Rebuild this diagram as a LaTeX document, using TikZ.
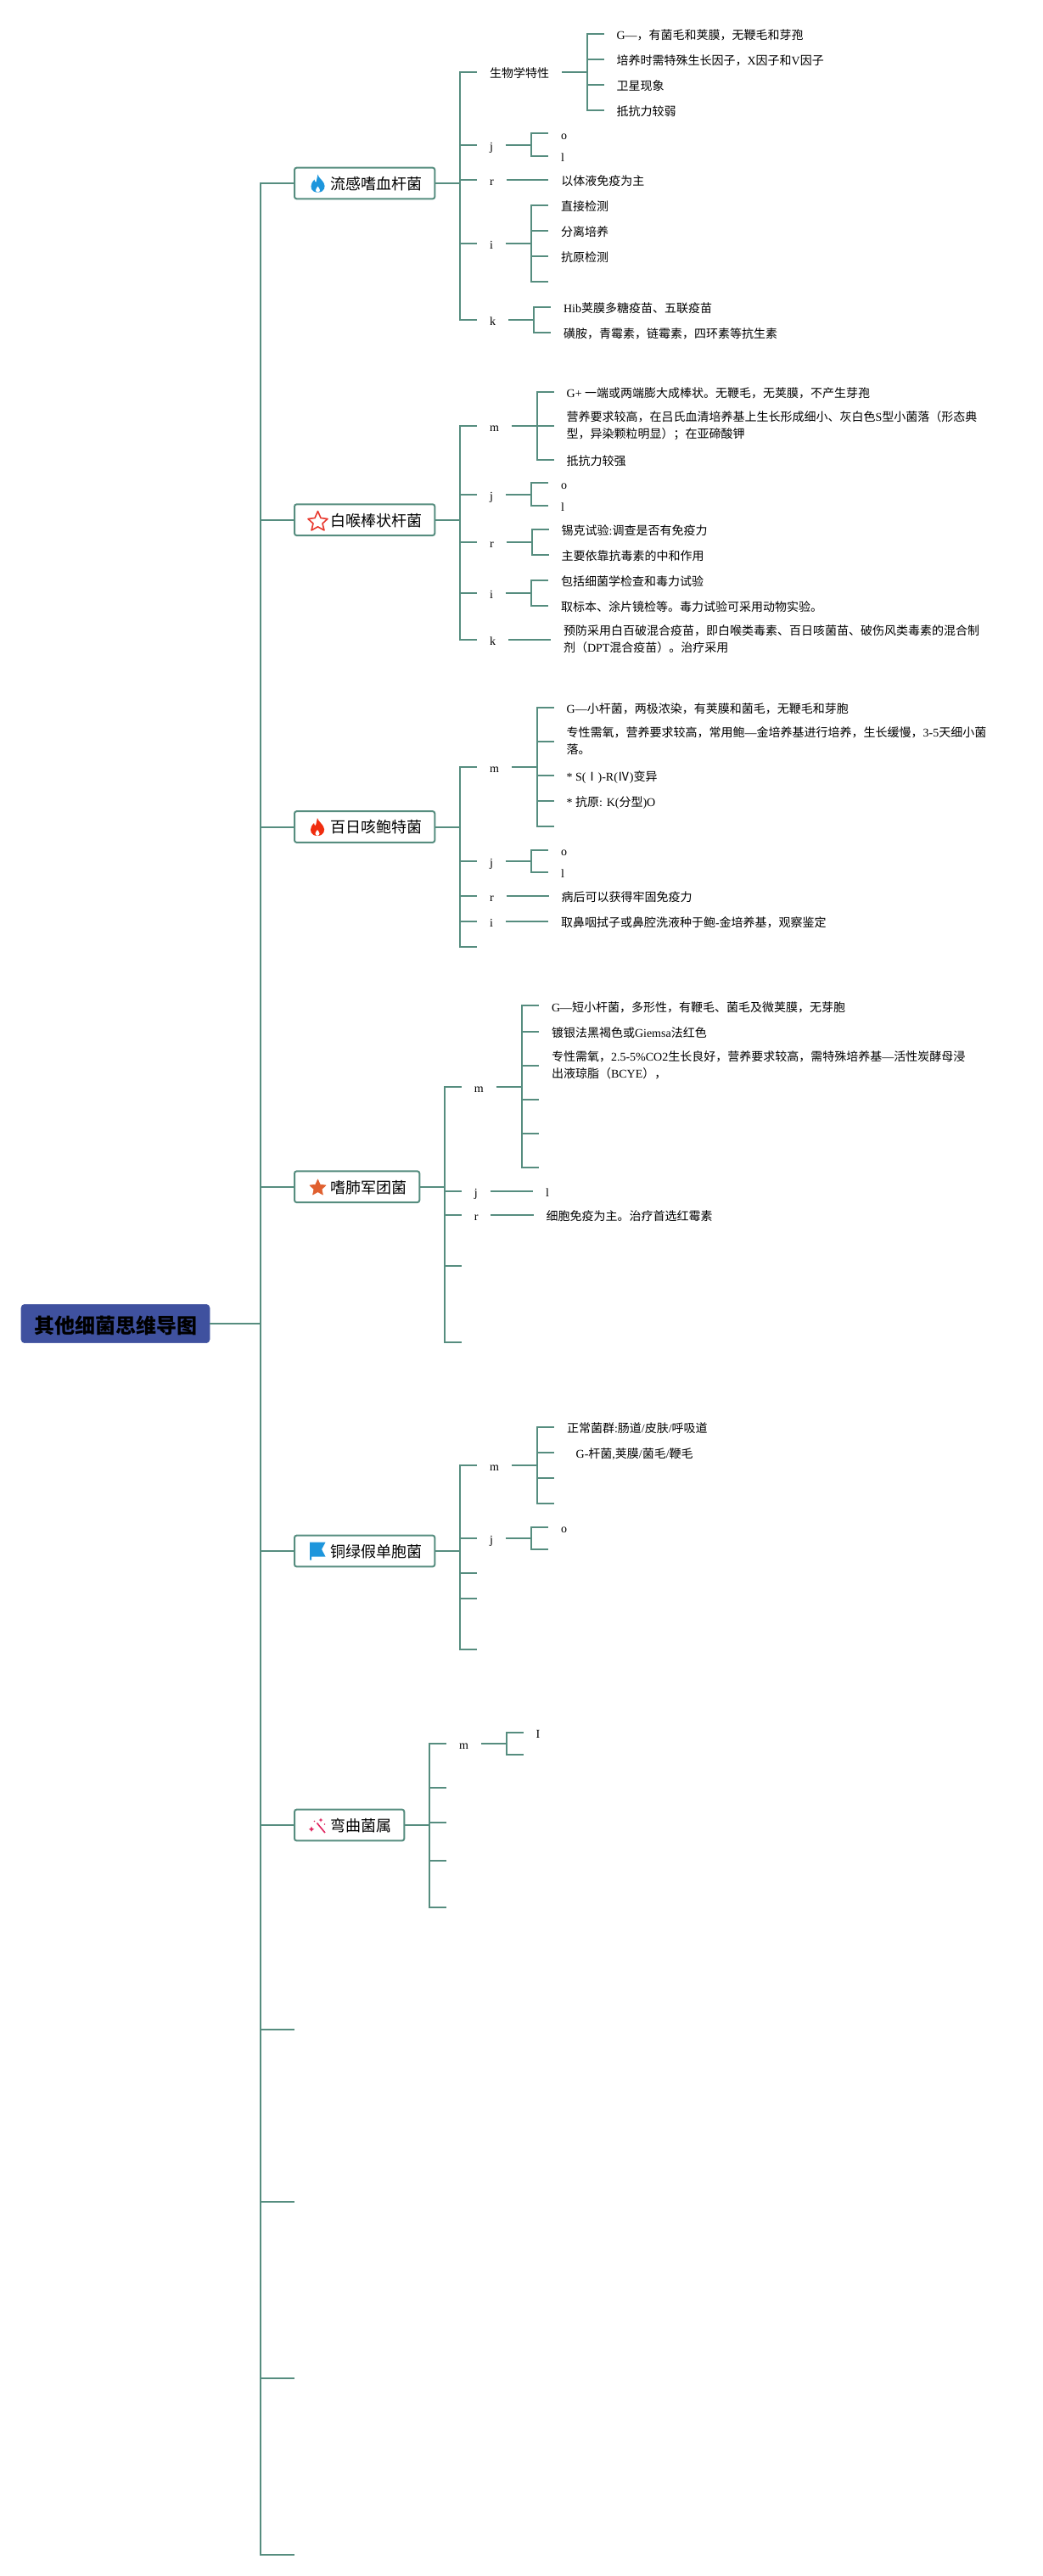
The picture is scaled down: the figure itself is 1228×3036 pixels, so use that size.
\documentclass[tikz,border=0pt]{standalone}
\usepackage{fontspec}
\setmainfont{Liberation Serif}
\newfontfamily\cjkf{Noto Sans CJK SC}
\newfontfamily\latf{Liberation Serif}
% automatic CJK / Latin font switching
\newXeTeXintercharclass\cjkcls
\newcount\ccnt
\ccnt="3000 \loop \XeTeXcharclass\ccnt=\cjkcls \ifnum\ccnt<"9FFF \advance\ccnt 1 \repeat
\ccnt="FF00 \loop \XeTeXcharclass\ccnt=\cjkcls \ifnum\ccnt<"FFEF \advance\ccnt 1 \repeat
\ccnt="2160 \loop \XeTeXcharclass\ccnt=\cjkcls \ifnum\ccnt<"216F \advance\ccnt 1 \repeat
\XeTeXinterchartoks 0 \cjkcls={\cjkf}
\XeTeXinterchartoks 4095 \cjkcls={\cjkf}
\XeTeXinterchartoks \cjkcls 0={\latf}
\XeTeXinterchartoks 4095 0={\latf}
\XeTeXinterchartokenstate=1
\definecolor{linkc}{HTML}{568D7F}
\definecolor{rootc}{HTML}{3F519F}
\definecolor{iconblue}{HTML}{1E96DC}
\definecolor{iconred}{HTML}{F02D0F}
\definecolor{iconorange}{HTML}{E0602F}
\definecolor{iconstar}{HTML}{E8392F}
\definecolor{iconpink}{HTML}{E0245E}
\newcommand\st{\rule[-2.25pt]{0pt}{14.85pt}}
\tikzset{
  link/.style={draw=linkc,line width=1.5pt},
  leaf/.style={anchor=west,inner xsep=11.25pt,inner ysep=0pt,outer sep=0pt,align=left,
    font=\fontsize{10.5}{15}\selectfont,execute at begin node=\st},
  topic/.style={anchor=west,draw=linkc,line width=1.5pt,fill=white,rounded corners=2pt,inner xsep=0pt,inner ysep=0pt,
    outer sep=0pt,minimum height=27.6pt,font=\fontsize{13.5}{16}\selectfont,
    execute at begin node={\hspace*{31.5pt}\rule[-5pt]{0pt}{21.2pt}},execute at end node={\hspace*{11.5pt}}},
  rootbox/.style={anchor=west,fill=rootc,draw=rootc,rounded corners=3pt,minimum width=166.5pt,minimum height=34pt,
    inner sep=0pt,outer sep=0pt,font=\fontsize{18}{22}\selectfont\bfseries,
    execute at begin node={\rule[-6pt]{0pt}{28.6pt}}},
}
\newcommand\bracket[3]{%
  \coordinate (J#1) at (#2,0);
  \draw[link] (#1.east) -- (J#1 |- #1.east);
  \foreach \kid in {#3} \draw[link] (J#1 |- #1.east) |- (\kid);
}
\newcommand\flame[3]{%
  \begin{scope}[shift={(#1,#2)}]
    \fill[#3] (9,0) .. controls (10,4) and (14,6) .. (16,10) .. controls (18.5,14) and (17,21) .. (9,21)
      .. controls (1.5,21) and (-0.5,15) .. (2,10) .. controls (3,8) and (4,7) .. (5,6)
      .. controls (5,8) and (6,9) .. (7,9) .. controls (8,6) and (8,3) .. (9,0) -- cycle;
    \fill[white] (9,14) .. controls (10,15.5) and (11.5,17) .. (11.5,18.5) .. controls (11.5,20) and (10,20.8) .. (9,20.8)
      .. controls (8,20.8) and (6.5,20) .. (6.5,18.5) .. controls (6.5,17) and (8,15.5) .. (9,14) -- cycle;
  \end{scope}}
\begin{document}
\begin{tikzpicture}[x=0.75pt,y=-0.75pt]
\useasboundingbox (0,0) rectangle (1228,3036);
% root and main branches
\node[rootbox] (root) at (25,1560) {其他细菌思维导图};
\node[topic] (n1) at (347,216) {流感嗜血杆菌};
\node[topic] (n2) at (347,612.7) {白喉棒状杆菌};
\node[topic] (n3) at (347,974.5) {百日咳鲍特菌};
\node[topic] (n4) at (347,1398.7) {嗜肺军团菌};
\node[topic] (n5) at (347,1828) {铜绿假单胞菌};
\node[topic] (n6) at (347,2151) {弯曲菌属};
\coordinate (e1) at (347,2391.7);
\coordinate (e2) at (347,2594.7);
\coordinate (e3) at (347,2802.9);
\coordinate (e4) at (347,3010.6);
\bracket{root}{306.7}{n1.west,n2.west,n3.west,n4.west,n5.west,n6.west,e1,e2,e3,e4}

% ---- n1
\node[leaf] (n1a) at (562,84.7) {生物学特性};
\node[leaf] (n1j) at (562,170.7) {j};
\node[leaf] (n1r) at (562,211.7) {r};
\node[leaf] (n1i) at (562,286.7) {i};
\node[leaf] (n1k) at (562,376.7) {k};
\bracket{n1}{542}{n1a.west,n1j.west,n1r.west,n1i.west,n1k.west}
\node[leaf] (n1a1) at (711.6,39.7) {G—，有菌毛和荚膜，无鞭毛和芽孢};
\node[leaf] (n1a2) at (711.6,69.7) {培养时需特殊生长因子，X因子和V因子};
\node[leaf] (n1a3) at (711.6,99.7) {卫星现象};
\node[leaf] (n1a4) at (711.6,129.7) {抵抗力较弱};
\bracket{n1a}{691.5}{n1a1.west,n1a2.west,n1a3.west,n1a4.west}
\node[leaf] (n1j1) at (646,157.3) {o};
\node[leaf] (n1j2) at (646,183.7) {l};
\bracket{n1j}{626}{n1j1.west,n1j2.west}
\node[leaf] (n1r1) at (646.4,211.7) {以体液免疫为主};
\bracket{n1r}{626}{n1r1.west}
\node[leaf] (n1i1) at (646,241.7) {直接检测};
\node[leaf] (n1i2) at (646,271.7) {分离培养};
\node[leaf] (n1i3) at (646,301.7) {抗原检测};
\coordinate (n1i4) at (646,331.7);
\bracket{n1i}{626}{n1i1.west,n1i2.west,n1i3.west,n1i4}
\node[leaf] (n1k1) at (649,361.7) {Hib荚膜多糖疫苗、五联疫苗};
\node[leaf] (n1k2) at (649,391.7) {磺胺，青霉素，链霉素，四环素等抗生素};
\bracket{n1k}{629}{n1k1.west,n1k2.west}

% ---- n2
\node[leaf] (n2m) at (562,501.5) {m};
\node[leaf] (n2j) at (562,582.7) {j};
\node[leaf] (n2r) at (562,638.7) {r};
\node[leaf] (n2i) at (562,698.7) {i};
\node[leaf] (n2k) at (562,753.7) {k};
\bracket{n2}{542}{n2m.west,n2j.west,n2r.west,n2i.west,n2k.west}
\node[leaf] (n2m1) at (652.7,461.7) {G+ 一端或两端膨大成棒状。无鞭毛，无荚膜，不产生芽孢};
\node[leaf] (n2m2) at (652.7,501.7) {营养要求较高，在吕氏血清培养基上生长形成细小、灰白色S型小菌落（形态典\\\st 型，异染颗粒明显）；在亚碲酸钾};
\node[leaf] (n2m3) at (652.7,541.7) {抵抗力较强};
\bracket{n2m}{632.5}{n2m1.west,n2m2.west,n2m3.west}
\node[leaf] (n2j1) at (646,569.3) {o};
\node[leaf] (n2j2) at (646,595.7) {l};
\bracket{n2j}{625.6}{n2j1.west,n2j2.west}
\node[leaf] (n2r1) at (646.7,623.7) {锡克试验:调查是否有免疫力};
\node[leaf] (n2r2) at (646.7,653.7) {主要依靠抗毒素的中和作用};
\bracket{n2r}{626.6}{n2r1.west,n2r2.west}
\node[leaf] (n2i1) at (646,683.7) {包括细菌学检查和毒力试验};
\node[leaf] (n2i2) at (646,713.7) {取标本、涂片镜检等。毒力试验可采用动物实验。};
\bracket{n2i}{625.6}{n2i1.west,n2i2.west}
\node[leaf] (n2k1) at (649,753.7) {预防采用白百破混合疫苗，即白喉类毒素、百日咳菌苗、破伤风类毒素的混合制\\\st 剂（DPT混合疫苗）。治疗采用};
\bracket{n2k}{629}{n2k1.west}

% ---- n3
\node[leaf] (n3m) at (562,903.7) {m};
\node[leaf] (n3j) at (562,1015) {j};
\node[leaf] (n3r) at (562,1055.7) {r};
\node[leaf] (n3i) at (562,1085.7) {i};
\coordinate (n3x) at (562,1115.7);
\bracket{n3}{542}{n3m.west,n3j.west,n3r.west,n3i.west,n3x}
\node[leaf] (n3m1) at (652.7,833.7) {G—小杆菌，两极浓染，有荚膜和菌毛，无鞭毛和芽胞};
\node[leaf] (n3m2) at (652.7,873.7) {专性需氧，营养要求较高，常用鲍—金培养基进行培养，生长缓慢，3-5天细小菌\\\st 落。};
\node[leaf] (n3m3) at (652.7,913.7) {* S(Ⅰ)-R(Ⅳ)变异};
\node[leaf] (n3m4) at (652.7,943.7) {* 抗原: K(分型)O};
\coordinate (n3m5) at (652.7,973.7);
\bracket{n3m}{632.5}{n3m1.west,n3m2.west,n3m3.west,n3m4.west,n3m5}
\node[leaf] (n3j1) at (646,1001.7) {o};
\node[leaf] (n3j2) at (646,1028) {l};
\bracket{n3j}{625.6}{n3j1.west,n3j2.west}
\node[leaf] (n3r1) at (646.7,1055.7) {病后可以获得牢固免疫力};
\bracket{n3r}{626}{n3r1.west}
\node[leaf] (n3i1) at (646,1085.7) {取鼻咽拭子或鼻腔洗液种于鲍-金培养基，观察鉴定};
\bracket{n3i}{626}{n3i1.west}

% ---- n4
\node[leaf] (n4m) at (543.8,1280.7) {m};
\node[leaf] (n4j) at (543.8,1403.7) {j};
\node[leaf] (n4r) at (543.8,1431.7) {r};
\coordinate (n4x) at (543.8,1491.7);
\coordinate (n4y) at (543.8,1581.7);
\bracket{n4}{524.3}{n4m.west,n4j.west,n4r.west,n4x,n4y}
\node[leaf] (n4m1) at (635,1185.3) {G—短小杆菌，多形性，有鞭毛、菌毛及微荚膜，无芽胞};
\node[leaf] (n4m2) at (635,1215.7) {镀银法黑褐色或Giemsa法红色};
\node[leaf] (n4m3) at (635,1255.7) {专性需氧，2.5-5\%CO2生长良好，营养要求较高，需特殊培养基—活性炭酵母浸\\\st 出液琼脂（BCYE），};
\coordinate (n4m4) at (635,1295.7);
\coordinate (n4m5) at (635,1335.7);
\coordinate (n4m6) at (635,1375.7);
\bracket{n4m}{614.8}{n4m1.west,n4m2.west,n4m3.west,n4m4,n4m5,n4m6}
\node[leaf] (n4j1) at (628,1403.7) {l};
\bracket{n4j}{608}{n4j1.west}
\node[leaf] (n4r1) at (628.5,1431.7) {细胞免疫为主。治疗首选红霉素};
\bracket{n4r}{608}{n4r1.west}

% ---- n5
\node[leaf] (n5m) at (562,1726.7) {m};
\node[leaf] (n5j) at (562,1812.7) {j};
\coordinate (n5x) at (562,1853.7);
\coordinate (n5y) at (562,1884);
\coordinate (n5z) at (562,1944);
\bracket{n5}{542}{n5m.west,n5j.west,n5x,n5y,n5z}
\node[leaf] (n5m1) at (653,1681.7) {正常菌群:肠道/皮肤/呼吸道};
\node[leaf] (n5m2) at (653,1711.7) {\hspace*{8pt}G-杆菌,荚膜/菌毛/鞭毛};
\coordinate (n5m3) at (653,1741.7);
\coordinate (n5m4) at (653,1771.7);
\bracket{n5m}{633}{n5m1.west,n5m2.west,n5m3,n5m4}
\node[leaf] (n5j1) at (646,1799.7) {o};
\coordinate (n5j2) at (646,1825.7);
\bracket{n5j}{626}{n5j1.west,n5j2}

% ---- n6
\node[leaf] (n6m) at (526,2054.7) {m};
\coordinate (n6x) at (526,2106.7);
\coordinate (n6y) at (526,2147.7);
\coordinate (n6z) at (526,2192.7);
\coordinate (n6w) at (526,2248);
\bracket{n6}{506}{n6m.west,n6x,n6y,n6z,n6w}
\node[leaf] (n6m1) at (616.7,2041.7) {I};
\coordinate (n6m2) at (616.7,2068);
\bracket{n6m}{596.7}{n6m1.west,n6m2}

% ---- icons
\flame{365.5}{205.7}{iconblue}
\flame{365}{964}{iconred}
\draw[iconstar,line width=1.2pt,line join=round,fill=white]
  (374.5,602.5) -- (378,610.5) -- (386,611.5) -- (380,617) -- (382,625) -- (374.5,620.8)
  -- (367,625) -- (369,617) -- (363,611.5) -- (371,610.5) -- cycle;
\fill[iconorange,line join=round,draw=iconorange,line width=0.5pt]
  (374.5,1390) -- (377.2,1396.2) -- (384,1397) -- (379,1401.5) -- (380.4,1408) -- (374.5,1404.6)
  -- (368.6,1408) -- (370,1401.5) -- (365,1397) -- (371.8,1396.2) -- cycle;
\fill[iconblue] (365,1817.7) -- (383.5,1817.7) -- (379,1826) -- (383.5,1834.5) -- (367,1834.5)
  -- (367,1838.5) -- (365,1838.5) -- cycle;
\draw[iconpink,line width=1.2pt] (373.5,2148.5) -- (383,2160);
\fill[iconpink] (367,2152.5) -- (368,2154.8) -- (370.3,2155.8) -- (368,2156.8) -- (367,2159)
  -- (366,2156.8) -- (363.8,2155.8) -- (366,2154.8) -- cycle;
\fill[iconpink] (378,2142.5) -- (378.7,2144.3) -- (380.5,2145) -- (378.7,2145.7) -- (378,2147.5)
  -- (377.3,2145.7) -- (375.5,2145) -- (377.3,2144.3) -- cycle;
\fill[iconpink] (382.5,2150) circle (0.9);
\fill[iconpink] (370.5,2146.5) circle (0.8);
\end{tikzpicture}
\end{document}
